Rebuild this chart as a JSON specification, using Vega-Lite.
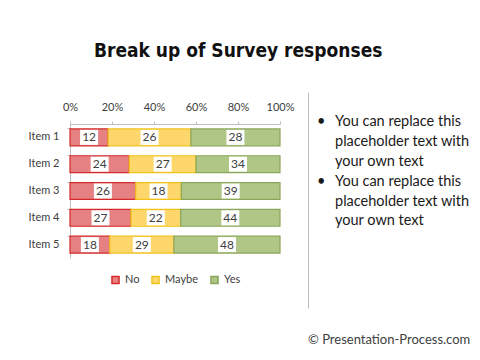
{
  "$schema": "https://vega.github.io/schema/vega-lite/v6.json",
  "autosize": {"type": "none"},
  "padding": {"left": 70, "top": 92, "right": 410, "bottom": 268},
  "background": "white",
  "bounds": "flush",
  "spacing": 28,
  "title": {"text": "Break up of Survey responses", "font": "DejaVu Sans Condensed", "fontSize": 19, "fontWeight": "bold", "color": "#111111", "anchor": "middle", "baseline": "alphabetic", "offset": 16, "dx": -11},
  "config": {"view": {"stroke": null}, "font": "Lato"},
  "hconcat": [
    {
      "width": 210,
      "height": 216,
      "data": {"values": [
        {"item": "Item 1", "response": "No", "k": 1, "value": 12},
        {"item": "Item 1", "response": "Maybe", "k": 2, "value": 26},
        {"item": "Item 1", "response": "Yes", "k": 3, "value": 28},
        {"item": "Item 2", "response": "No", "k": 1, "value": 24},
        {"item": "Item 2", "response": "Maybe", "k": 2, "value": 27},
        {"item": "Item 2", "response": "Yes", "k": 3, "value": 34},
        {"item": "Item 3", "response": "No", "k": 1, "value": 26},
        {"item": "Item 3", "response": "Maybe", "k": 2, "value": 18},
        {"item": "Item 3", "response": "Yes", "k": 3, "value": 39},
        {"item": "Item 4", "response": "No", "k": 1, "value": 27},
        {"item": "Item 4", "response": "Maybe", "k": 2, "value": 22},
        {"item": "Item 4", "response": "Yes", "k": 3, "value": 44},
        {"item": "Item 5", "response": "No", "k": 1, "value": 18},
        {"item": "Item 5", "response": "Maybe", "k": 2, "value": 29},
        {"item": "Item 5", "response": "Yes", "k": 3, "value": 48}
      ]},
      "transform": [
        {"stack": "value", "groupby": ["item"], "sort": [{"field": "k", "order": "ascending"}], "offset": "normalize", "as": ["x0", "x1"]},
        {"calculate": "(datum.x0 + datum.x1) / 2", "as": "xm"}
      ],
      "encoding": {
        "y": {"field": "item", "type": "nominal", "title": null,
          "scale": {"range": [32, 166], "paddingInner": 0.37, "paddingOuter": 0.185},
          "axis": {"orient": "left", "domainColor": "#bfbfbf", "tickColor": "#bfbfbf", "tickSize": 3, "bandPosition": 0, "labelPadding": 8, "labelFontSize": 11, "labelColor": "#404040", "labelFont": "Lato", "grid": false}}
      },
      "layer": [
        {
          "mark": {"type": "bar", "strokeWidth": 1.2},
          "encoding": {
            "x": {"field": "x0", "type": "quantitative", "scale": {"domain": [0, 1]},
              "axis": {"orient": "top", "offset": -32, "format": ".0%", "values": [0, 0.2, 0.4, 0.6, 0.8, 1], "tickSize": 3, "domainColor": "#bfbfbf", "tickColor": "#bfbfbf", "labelPadding": 9, "labelFontSize": 11, "labelColor": "#404040", "labelFont": "Lato", "grid": false, "title": null, "labelFlush": false}},
            "x2": {"field": "x1"},
            "fill": {"field": "response", "type": "nominal",
              "scale": {"domain": ["No", "Maybe", "Yes"], "range": ["#e58083", "#fdd76b", "#b0c686"]},
              "legend": {"orient": "none", "legendX": 40, "legendY": 182, "direction": "horizontal", "title": null, "symbolType": "square", "symbolSize": 50, "symbolStrokeWidth": 1.5, "labelFont": "Lato", "labelFontSize": 11, "labelColor": "#404040", "columnPadding": 8, "labelOffset": 4}},
            "stroke": {"field": "response", "type": "nominal",
              "scale": {"domain": ["No", "Maybe", "Yes"], "range": ["#d42a2a", "#f2c21b", "#8aa65a"]},
              "legend": {"orient": "none", "legendX": 40, "legendY": 182, "direction": "horizontal", "title": null, "symbolType": "square", "symbolSize": 50, "symbolStrokeWidth": 1.5, "labelFont": "Lato", "labelFontSize": 11, "labelColor": "#404040", "columnPadding": 8, "labelOffset": 4}}
          }
        },
        {
          "mark": {"type": "point", "shape": "M-1,-0.8333H1V0.8333H-1Z", "filled": true, "fill": "white", "opacity": 1, "size": 324, "strokeWidth": 0},
          "encoding": {
            "x": {"field": "xm", "type": "quantitative"}
          }
        },
        {
          "mark": {"type": "text", "fontSize": 12, "color": "#404040", "font": "Lato", "baseline": "middle"},
          "encoding": {
            "x": {"field": "xm", "type": "quantitative"},
            "text": {"field": "value", "type": "quantitative"}
          }
        }
      ]
    },
    {
      "width": 160,
      "height": 216,
      "data": {"values": [
        {"line": 1, "col": "bullet", "t": "•"},
        {"line": 1, "col": "text", "t": "You can replace this"},
        {"line": 2, "col": "text", "t": "placeholder text with"},
        {"line": 3, "col": "text", "t": "your own text"},
        {"line": 4, "col": "bullet", "t": "•"},
        {"line": 4, "col": "text", "t": "You can replace this"},
        {"line": 5, "col": "text", "t": "placeholder text with"},
        {"line": 6, "col": "text", "t": "your own text"}
      ]},
      "title": {"text": "© Presentation-Process.com", "orient": "bottom", "anchor": "start", "frame": "group", "offset": 26, "fontSize": 13, "fontWeight": "normal", "font": "Lato", "color": "#404040"},
      "mark": {"type": "text", "align": "left", "baseline": "middle", "fontSize": 14.5, "font": "Lato", "color": "#1a1a1a"},
      "encoding": {
        "y": {"field": "line", "type": "quantitative", "scale": {"domain": [-0.54, 10.369], "reverse": true, "nice": false, "zero": false},
          "axis": {"title": null, "labels": false, "ticks": false, "domainColor": "#bfbfbf", "domainWidth": 1, "grid": false}},
        "x": {"field": "col", "type": "nominal", "scale": {"type": "point", "domain": ["bullet", "text"], "range": [9, 27], "padding": 0}, "axis": null},
        "text": {"field": "t"}
      }
    }
  ]
}
